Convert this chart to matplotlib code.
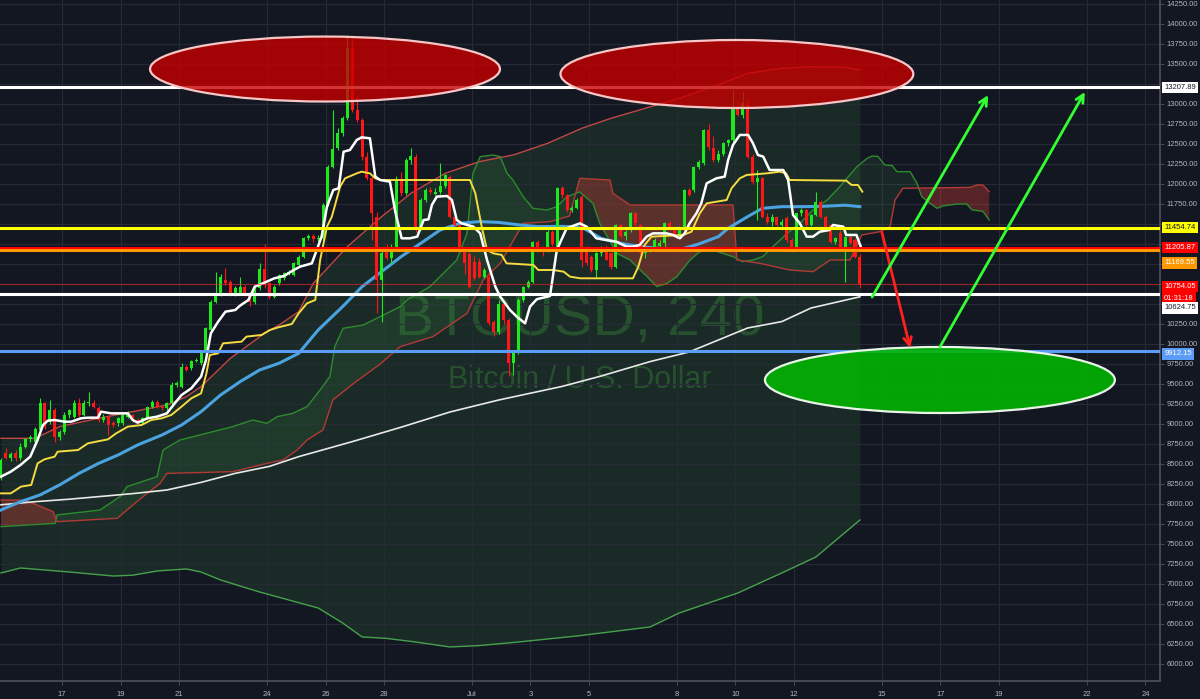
import numpy as np
import matplotlib.pyplot as plt
from matplotlib.patches import Ellipse

plt.rcParams['font.family'] = ['Liberation Sans', 'DejaVu Sans']

# ---- 4h candles (bar 0 = 14 Jun evening) ----
opens = [8340, 8640, 8571, 8640, 8571, 8717, 8808, 8779, 8925, 9258,
         9029, 9175, 8842, 8904, 9113, 9092, 9258, 9113, 9258, 9267,
         9196, 9050, 9092, 9008, 9008, 9008, 9092, 9113, 9050, 9017,
         9071, 9217, 9279, 9217, 9196, 9258, 9487, 9467, 9717, 9696,
         9787, 9758, 9883, 10175, 10529, 10612, 10800, 10779, 10633, 10633,
         10717, 10633, 10529, 10696, 10933, 10758, 10592, 10758, 10821, 10883,
         10863, 10988, 11092, 11321, 11350, 11308, 11321, 11738, 12217, 12446,
         12633, 12821, 13700, 12925, 12800, 12342, 12071, 11592, 10800, 11150,
         11071, 11217, 12050, 11883, 12300, 12342, 11446, 11800, 11925, 11880,
         11900, 11975, 12092, 11592, 11488, 11175, 11130, 11029, 11029, 10842,
         10842, 10279, 10154, 10500, 10300, 9758, 9883, 10550, 10717, 10779,
         11279, 11196, 11175, 11404, 11217, 11946, 11863, 11680, 11700, 11842,
         11200, 11092, 10925, 11133, 11217, 11133, 10967, 11488, 11350, 11425,
         11633, 11488, 11133, 11170, 11217, 11230, 11260, 11508, 11425, 11350,
         11446, 11925, 11925, 12217, 12258, 12675, 12446, 12300, 12380, 12508,
         12550, 12967, 12863, 13008, 12342, 12029, 12071, 11592, 11530, 11590,
         11488, 11571, 11300, 11196, 11633, 11675, 11488, 11613, 11779, 11592,
         11488, 11279, 11383, 11175, 11340, 11300, 11092]
highs = [8580, 8700, 8650, 8680, 8760, 8830, 8860, 8960, 9320, 9280,
         9300, 9200, 8930, 9150, 9190, 9300, 9330, 9300, 9404, 9300,
         9230, 9120, 9110, 9040, 9090, 9130, 9160, 9130, 9070, 9090,
         9230, 9300, 9300, 9240, 9280, 9520, 9540, 9760, 9740, 9800,
         9830, 9900, 10210, 10550, 10904, 10880, 10950, 10800, 10720, 10842,
         10740, 10650, 10720, 11008, 11250, 10780, 10740, 10880, 10900, 10920,
         11030, 11110, 11340, 11380, 11380, 11360, 11760, 12240, 12925, 12700,
         12850, 13860, 13850, 13100, 12820, 12400, 12100, 11650, 11200, 11250,
         11250, 12100, 12150, 12330, 12446, 12380, 11830, 11950, 11960, 11950,
         12260, 12130, 12110, 11620, 11500, 11200, 11150, 11100, 11080, 10950,
         10900, 10300, 10550, 10520, 10320, 9900, 10570, 10730, 10800, 11290,
         11300, 11220, 11420, 11420, 11960, 11980, 11880, 11720, 11830, 11870,
         11230, 11110, 11150, 11220, 11240, 11150, 11500, 11500, 11420, 11650,
         11650, 11500, 11180, 11230, 11320, 11300, 11520, 11540, 11440, 11470,
         11940, 11950, 12230, 12300, 12690, 12750, 12600, 12420, 12520, 12560,
         13175, 13050, 13150, 13060, 12380, 12180, 12090, 11640, 11620, 11600,
         11560, 11600, 11320, 11640, 11700, 11690, 11620, 11900, 11800, 11610,
         11500, 11340, 11420, 11350, 11360, 11320, 11130]
lows = [8300, 8560, 8540, 8540, 8550, 8700, 8780, 8760, 8900, 8940,
        9000, 8780, 8800, 8880, 9080, 9080, 9090, 9100, 9230, 9200,
        9020, 9020, 8863, 8960, 8980, 8990, 9070, 9030, 9000, 9000,
        9060, 9200, 9200, 9180, 9180, 9240, 9460, 9450, 9660, 9680,
        9770, 9740, 9870, 10160, 10510, 10600, 10740, 10600, 10600, 10610,
        10600, 10480, 10500, 10680, 10700, 10560, 10580, 10740, 10800, 10860,
        10850, 10970, 11080, 11300, 11280, 11290, 11300, 11720, 12200, 12420,
        12600, 12800, 12900, 12780, 12300, 12050, 11300, 10383, 10280, 11050,
        11000, 11200, 11850, 11860, 12250, 11400, 11420, 11780, 11880, 11860,
        11880, 11950, 11570, 11470, 11150, 10880, 10700, 10800, 10820, 10820,
        10240, 10100, 10130, 10250, 9600, 9612, 9870, 10530, 10700, 10760,
        11150, 11100, 11150, 11230, 11200, 11830, 11650, 11650, 11690, 10967,
        10990, 10900, 10840, 11100, 11050, 10940, 10950, 11330, 11300, 11400,
        11480, 11120, 11080, 11150, 11200, 11200, 11200, 11420, 11340, 11330,
        11430, 11850, 11900, 12190, 12240, 12420, 12280, 12280, 12350, 12480,
        12530, 12850, 12830, 12320, 12000, 11550, 11570, 11500, 11480, 11480,
        11440, 11280, 11150, 11180, 11600, 11480, 11470, 11600, 11580, 11460,
        11260, 11250, 11170, 10779, 11250, 11080, 10700]
closes = [8550, 8571, 8630, 8571, 8717, 8808, 8842, 8942, 9258, 8967,
          9175, 8842, 8904, 9113, 9175, 9258, 9113, 9258, 9267, 9217,
          9050, 9092, 8990, 8990, 9071, 9113, 9142, 9050, 9017, 9071,
          9208, 9279, 9217, 9196, 9258, 9487, 9508, 9717, 9675, 9787,
          9800, 9883, 10196, 10529, 10612, 10842, 10758, 10633, 10696, 10717,
          10633, 10529, 10696, 10933, 10738, 10592, 10717, 10863, 10883, 10890,
          11008, 11092, 11321, 11350, 11308, 11330, 11738, 12217, 12433, 12633,
          12821, 13700, 12925, 12800, 12342, 12071, 11633, 10800, 11133, 11071,
          11217, 12050, 11883, 12300, 12350, 11446, 11800, 11925, 11900, 11900,
          11975, 12113, 11592, 11488, 11175, 11008, 10717, 10821, 10842, 10925,
          10258, 10154, 10500, 10300, 9758, 9883, 10550, 10717, 10780, 11279,
          11196, 11150, 11404, 11250, 11946, 11863, 11675, 11700, 11800, 11050,
          11008, 10925, 11133, 11217, 11050, 10967, 11488, 11350, 11400, 11633,
          11508, 11133, 11170, 11217, 11300, 11260, 11508, 11425, 11350, 11446,
          11925, 11862, 12217, 12280, 12675, 12467, 12300, 12380, 12508, 12550,
          12967, 12863, 13008, 12342, 12029, 12071, 11592, 11530, 11590, 11488,
          11520, 11300, 11196, 11633, 11675, 11488, 11613, 11779, 11592, 11467,
          11279, 11330, 11175, 11340, 11258, 11092, 10754]

# ---- indicators (bar index, price) ----
tenkan_bar = [0, 2, 4, 6, 7.5, 8.6, 9.6, 11, 13, 14.4, 16.4, 17.8, 19.9, 20.5, 22.6, 26, 27, 28, 30, 32,
              34, 35.6, 37, 39, 41, 42, 43, 44.5, 46, 48, 49, 50.7, 52, 54, 56, 58, 60, 61.3, 63.7, 64.7,
              65.7, 66.8, 68.1, 69.2, 70.2, 71.5, 72.9, 73.9, 75.6, 76.7, 77.7, 79.7, 80.8, 82.1, 83.8, 85.3,
              86.6, 87.6, 88.3, 89.3, 91.4, 92.4, 93.4, 94.4, 96.8, 98.2, 99.6, 101.3, 102.3, 104.3, 105.7,
              107.4, 108.4, 109.8, 112.5, 113.9, 115.9, 118.6, 120, 122, 124, 126.1, 128.2, 129.5, 130.9,
              132.3, 133.6, 136.4, 137.7, 139.1, 140.1, 141.1, 142.5, 143.5, 144.6, 146.6, 148.3, 149, 150,
              151.4, 153.1, 154.1, 155.1, 156.2, 157.5, 160.3, 161.3, 162.3, 163.7, 165.1, 166.4, 167.8,
              169.8, 170.5, 172.6, 173.2, 175.3, 176.3]
tenkan_val = [8342, 8404, 8488, 8592, 8800, 8987, 9042, 9050, 9029, 9029, 9071, 9079, 9079, 9154, 9133, 9133, 9050, 9017, 9071, 9092,
              9133, 9258, 9362, 9446, 9592, 9800, 10133, 10279, 10404, 10425, 10480, 10550, 10717, 10767, 10821, 10850, 10925, 10967, 11008, 11175,
              11342, 11717, 11925, 11946, 12404, 12425, 12550, 12583, 12571, 12092, 12050, 12029, 11654, 11321, 11321, 11342,
              11550, 11558, 11738, 11842, 11850, 11800, 11550, 11508, 11467, 11383, 11050, 10717, 10592, 10425, 10342,
              10258, 10467, 10560, 10600, 11175, 11446, 11508, 11467, 11321, 11300, 11279, 11217, 11217, 11238,
              11342, 11383, 11383, 11363, 11321, 11383, 11508, 11633, 11758, 12008, 12071, 12092, 12300, 12488,
              12613, 12613, 12508, 12363, 12342, 12175, 12175, 12050, 11613, 11508, 11342, 11342, 11404,
              11425, 11488, 11467, 11363, 11363, 11196]

kijun_bar = [0, 2, 4.1, 6.2, 7.5, 8.9, 11, 11.6, 15.8, 17.8, 21.9, 23.6, 26, 28.8, 30.8, 32.9, 34.9, 37, 39, 41,
             42.1, 42.8, 44.5, 45.5, 49.3, 50.3, 53.4, 55.1, 56.8, 59.6, 61, 62.7, 64.4, 65.4, 66.8, 67.8, 69.5,
             70.5, 72.9, 73.9, 75.6, 76.7, 77.7, 96.1, 97.2, 98.5, 99.6, 100.9, 102.6, 103.6, 109.1, 110.1, 113.2,
             115.3, 116.6, 118.7, 129.5, 130.6, 131.9, 133.3, 139.8, 141.5, 143.2, 144.6, 146.6, 148.7, 149.7,
             151.4, 152.8, 156.9, 159.6, 160.9, 161.6, 173.2, 174.3, 175.6, 176.5]
kijun_val = [8133, 8133, 8217, 8238, 8508, 8558, 8592, 8654, 8675, 8758, 8808, 8883, 8967, 8987, 9050, 9071, 9113, 9217, 9321, 9383,
             9633, 9863, 9883, 10008, 10029, 10092, 10113, 10175, 10208, 10250, 10383, 10508, 10550, 11050, 11467, 11592, 11967,
             12071, 12133, 12154, 12133, 12071, 12050, 12050, 11883, 11467, 11175, 11133, 11113, 11008, 10988, 10925, 10925,
             10904, 10842, 10821, 10821, 10967, 11238, 11342, 11363, 11404, 11633, 11758, 11779, 11800, 11946,
             12071, 12113, 12133, 12154, 12133, 12050, 12042, 11988, 11988, 11904]

span_a_bar = [0, 11.1, 11.5, 20.3, 24.4, 25.8, 32, 33.2, 36.7, 43.4, 47.5, 51.6, 54.5, 56.6, 59.8, 62.7, 65.4,
              67.4, 68.4, 70.1, 74.2, 77.7, 81.8, 83.2, 87.9, 93.4, 95.5, 96.7, 98.2, 100.8, 102.3, 103.7, 104.9,
              107, 109, 111.9, 113.9, 116, 118.6, 121.3, 122.7, 126.2, 128.9, 132.4, 134.4, 136.5, 138.5, 141.2,
              143.2, 145.9, 147.9, 150, 152, 154.1, 156.1, 158.2, 161.1, 163.7, 166.4, 169.3, 171.9, 175.4, 177.5,
              178.5, 179.7, 181.1, 182.6, 183.6, 186.3, 187.7, 188.7, 190.4, 191.8, 193, 195.9, 197.9, 199, 201.2, 202.5]
span_a_val = [7717, 7758, 7863, 7925, 8092, 8217, 8342, 8675, 8800, 8904, 8967, 9050, 9008, 9092, 9133, 9217, 9425,
              9592, 9967, 10196, 10237, 10342, 10467, 10550, 10717, 11050, 11383, 12133, 12342, 12363, 12342, 12133, 12050,
              11842, 11696, 11675, 11717, 11842, 11900, 11758, 11508, 11133, 11050, 10842, 10717, 10758, 10842, 11050,
              11154, 11175, 11133, 11092, 11029, 11050, 11092, 11217, 11383, 11508, 11675, 11800, 11967, 12217, 12321,
              12350, 12345, 12238, 12230, 12154, 12154, 12008, 11842, 11758, 11696, 11725, 11750, 11750, 11675, 11660, 11550]

span_b_bar = [0, 3.9, 6.6, 10.7, 11.5, 23.8, 25, 29.1, 32.6, 34, 47.5, 54.5, 57.8, 60.7, 62.7, 66, 68, 72.1,
              77.7, 81.8, 88.5, 95.5, 98.8, 102.3, 107, 112.5, 116.5, 118.6, 124.8, 125.4, 128.9, 150, 150.8, 155.5,
              161.7, 166.4, 169.9, 174, 176.4, 180.1, 182.2, 183.2, 184.8, 198.6, 200, 201.2, 202.5]
span_b_val = [8050, 8050, 8008, 7904, 7779, 7821, 7883, 8092, 8258, 8383, 8404, 8508, 8550, 8675, 8800, 8925, 9300, 9500,
              9750, 9967, 10092, 10383, 10800, 11008, 11508, 11529, 11600, 12071, 12050, 11883, 11738, 11738, 11050, 11008,
              10925, 10904, 11050, 11050, 11363, 11404, 11467, 11800, 11946, 11958, 11988, 11988, 11904]

ma_bar = [0, 4, 8, 12, 16, 20, 24, 28, 33, 37, 41, 45, 49, 53, 57, 61, 65, 70, 74, 78, 82, 86, 90, 94, 98, 102,
          106, 110, 115, 119, 123, 127, 131, 135, 139, 143, 147, 149, 153, 156, 160, 164, 168, 173, 176]
ma_val = [7925, 8029, 8113, 8238, 8383, 8508, 8613, 8738, 8863, 8987, 9154, 9363, 9529, 9675, 9760, 9883, 10175,
          10467, 10717, 10904, 11092, 11258, 11425, 11508, 11530, 11520, 11490, 11467, 11470, 11460, 11320, 11258,
          11217, 11196, 11180, 11250, 11342, 11446, 11592, 11696, 11717, 11717, 11720, 11735, 11717]

ma200_bar = [0, 7, 14, 20, 27, 34, 41, 48, 55, 61, 72, 82, 92, 102, 115, 123, 133, 141, 153, 160, 166, 176]
ma200_val = [7990, 8029, 8060, 8092, 8130, 8175, 8270, 8383, 8470, 8592, 8780, 8960, 9150, 9300, 9470, 9600,
             9780, 9900, 10200, 10280, 10450, 10590]

band_up_bar = [0, 7, 12, 20, 27, 34, 38, 41, 47, 54, 57, 61, 64, 71, 78, 84, 91, 98, 105, 112, 119, 125, 132,
               139, 146, 153, 160, 166, 173, 176]
band_up_val = [8821, 8821, 8967, 9071, 9154, 9238, 9342, 9467, 9821, 10133, 10238, 10404, 10758, 11217, 11592,
               11883, 12133, 12279, 12363, 12508, 12696, 12821, 12946, 13071, 13217, 13383, 13446, 13467, 13460, 13425]
band_lo_bar = [0, 4, 14, 23, 27, 32, 38, 41, 45, 53, 65, 70, 74, 79, 85, 92, 98, 106, 118, 133, 139, 151, 160,
               167, 176]
band_lo_val = [7138, 7200, 7150, 7100, 7110, 7163, 7188, 7150, 7050, 6900, 6700, 6513, 6338, 6320, 6275, 6213,
               6230, 6275, 6350, 6463, 6638, 6888, 7138, 7338, 7800]

# horizontal levels
level_vals = [13207.89, 11454.74, 11205.87, 11169.55, 10624.75, 9912.15]
level_cols = ['#ffffff', '#ffff00', '#ff0000', '#ff9800', '#ffffff', '#5b9cf6']
last_price = 10754.05
countdown = '01:31:18'

# date axis
tick_days = [17, 19, 21, 24, 26, 28, 31, 33, 35, 38, 40, 42, 45, 47, 49, 52, 54]   # June day numbers
tick_text = ['17', '19', '21', '24', '26', '28', 'Jul', '3', '5', '8', '10', '12', '15', '17', '19', '22', '24']

BG = '#131722'
GRID = '#262a35'
TXT = '#b2b5be'
GREEN = '#1ee81e'
RED = '#ff1616'

fig = plt.figure(figsize=(12, 6.99), dpi=100, facecolor=BG)
ax = fig.add_axes([0, 18 / 699, 1160 / 1200, 681 / 699])
ax.set_facecolor(BG)
ax.set_xlim(-0.2, 237.5)
ax.set_ylim(5787.5, 14300)


def day_to_bar(d):
    return 12.5 + (np.asarray(d, float) - 17) * 6


# price scale: ticks hidden where a tag covers them
covered = [13250, 11500, 11250, 11000, 10750, 10500]


def price_fmt(v, pos):
    return '' if any(abs(v - cv) < 1 for cv in covered) else f'{v:.2f}'


ax.set_yticks(np.arange(6000, 14251, 250))
ax.yaxis.tick_right()
ax.yaxis.set_major_formatter(price_fmt)
ax.set_xticks(day_to_bar(tick_days))
ax.set_xticklabels(tick_text)
ax.tick_params(axis='both', colors='#50535e', labelcolor=TXT, labelsize=5.5, length=3, width=0.6, pad=2)
ax.tick_params(axis='x', pad=4)
ax.grid(True, color=GRID, lw=0.8, zorder=0)
for s in ['top', 'left']:
    ax.spines[s].set_visible(False)
for s in ['right', 'bottom']:
    ax.spines[s].set_color('#50535e')
    ax.spines[s].set_linewidth(1.2)

# long-period band
xb = np.linspace(0, band_up_bar[-1], 800)
ax.fill_between(xb, np.interp(xb, band_up_bar, band_up_val), np.interp(xb, band_lo_bar, band_lo_val),
                color='#4caf50', alpha=0.13, lw=0, zorder=1)
ax.plot(band_up_bar, band_up_val, color='#e0504a', lw=1.0, alpha=0.85, zorder=3)
ax.plot(band_lo_bar, band_lo_val, color='#4caf50', lw=1.0, alpha=0.9, zorder=3)

# watermark
ax.text(118.6, 10112, 'BTCUSD, 240', ha='center', va='baseline', fontsize=42,
        color='#3d8a3d', alpha=0.4, zorder=1.5)
ax.text(118.6, 9450, 'Bitcoin / U.S. Dollar', ha='center', va='baseline', fontsize=22,
        color='#3d8a3d', alpha=0.4, zorder=1.5)

# ichimoku cloud
xc = np.linspace(0, span_a_bar[-1], 1500)
sa = np.interp(xc, span_a_bar, span_a_val)
sb = np.interp(xc, span_b_bar, span_b_val)
ax.fill_between(xc, sa, sb, where=sa >= sb, interpolate=True, color='#43a047', alpha=0.13, lw=0, zorder=2)
ax.fill_between(xc, sa, sb, where=sa < sb, interpolate=True, color='#f44336', alpha=0.3, lw=0, zorder=2)
ax.plot(span_a_bar, span_a_val, color='#2e8b2e', lw=1.0, zorder=3)
ax.plot(span_b_bar, span_b_val, color='#b23a36', lw=1.0, zorder=3)

ax.plot(ma200_bar, ma200_val, color='#e8e8e8', lw=1.2, zorder=3)
ax.plot(ma_bar, ma_val, color='#4aa3df', lw=2.2, zorder=3)

# candles
o = np.array(opens, float)
h = np.array(highs, float)
l = np.array(lows, float)
c = np.array(closes, float)
assert len(o) == len(h) == len(l) == len(c)
xs = np.arange(len(c))
up = c >= o
for m, col in [(up, GREEN), (~up, RED)]:
    ax.vlines(xs[m], l[m], h[m], color=col, lw=0.8, zorder=4)
    body = np.where(np.abs(c[m] - o[m]) < 12, 12, c[m] - o[m])
    ax.bar(xs[m], body, bottom=o[m], width=0.62, color=col, lw=0, zorder=4)

ax.plot(kijun_bar, kijun_val, color='#f4dc42', lw=1.4, zorder=4.5)
ax.plot(tenkan_bar, tenkan_val, color='#ffffff', lw=1.8, zorder=4.6)

# horizontal levels
ax.axhline(last_price, color='#ff2020', lw=0.8, alpha=0.55, zorder=5)
for v, col in zip(level_vals, level_cols):
    ax.axhline(v, color=col, lw=2.2, zorder=5)

# drawings
ax.add_patch(Ellipse((66.4, 13437), 71.7, 812, fc=(0.78, 0, 0, 0.8), ec='#f7c6c6', lw=1.6, zorder=6))
ax.add_patch(Ellipse((150.8, 13375), 72.3, 850, fc=(0.78, 0, 0, 0.8), ec='#f7c6c6', lw=1.6, zorder=6))
ax.add_patch(Ellipse((192.4, 9550), 71.7, 825, fc=(0.0, 0.72, 0.0, 0.88), ec='#e8f5e8', lw=1.6, zorder=6))

arrow_kw = dict(arrowstyle='->', lw=2, mutation_scale=14, shrinkA=0, shrinkB=0)
ax.annotate('', xy=(186.3, 9950), xytext=(180.5, 11400), arrowprops=dict(color='#ff2020', **arrow_kw), zorder=7)
ax.annotate('', xy=(202.3, 13112), xytext=(178.5, 10587), arrowprops=dict(color='#33ff33', **arrow_kw), zorder=7)
ax.annotate('', xy=(222.1, 13150), xytext=(192.4, 9962), arrowprops=dict(color='#33ff33', **arrow_kw), zorder=7)

# price scale tags
tags = [(13207.89, '13207.89', '#ffffff', '#131722', 0),
        (11454.74, '11454.74', '#ffff00', '#131722', 0),
        (11205.87, '11205.87', '#ff0000', '#ffffff', 0),
        (11169.55, '11169.55', '#ff9800', '#ffffff', -9),
        (last_price, '10754.05', '#ff0000', '#ffffff', -2),
        (last_price, countdown, '#ff0000', '#ffffff', -10.5),
        (10624.75, '10624.75', '#ffffff', '#131722', -10),
        (9912.15, '9912.15', '#5b9cf6', '#ffffff', -2)]
for v, s, fc, tc, dy in tags:
    ax.annotate(s, xy=(1.0, v), xycoords=('axes fraction', 'data'), xytext=(3, dy),
                textcoords='offset points', ha='left', va='center', fontsize=5.5, color=tc,
                bbox=dict(boxstyle='square,pad=0.3', fc=fc, ec='none'), annotation_clip=False, zorder=8)

fig.savefig('out.png', dpi=100, facecolor=BG)
